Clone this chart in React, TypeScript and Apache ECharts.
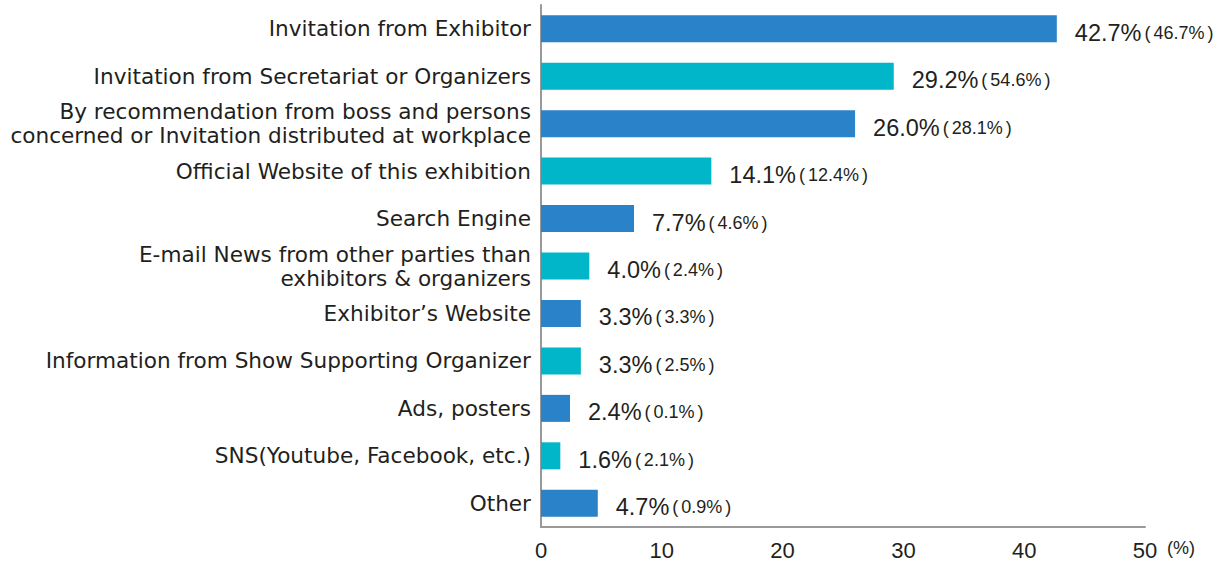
import React, { useEffect, useRef } from "react";
import * as echarts from "echarts";

const categories = [
  "Invitation from Exhibitor",
  "Invitation from Secretariat or Organizers",
  "By recommendation from boss and persons\nconcerned or Invitation distributed at workplace",
  "Official Website of this exhibition",
  "Search Engine",
  "E-mail News from other parties than\nexhibitors & organizers",
  "Exhibitor’s Website",
  "Information from Show Supporting Organizer",
  "Ads, posters",
  "SNS(Youtube, Facebook, etc.)",
  "Other",
];
const currentValues = [42.7, 29.2, 26.0, 14.1, 7.7, 4.0, 3.3, 3.3, 2.4, 1.6, 4.7];
const previousValues = [46.7, 54.6, 28.1, 12.4, 4.6, 2.4, 3.3, 2.5, 0.1, 2.1, 0.9];
const barColors = ["#2a82c8", "#00b6c8"];

export default function App() {
  const ref = useRef<HTMLDivElement>(null);
  useEffect(() => {
    if (!ref.current) return;
    const chart = echarts.init(ref.current, undefined, { renderer: "svg" });
    const catFont = "'DejaVu Sans', sans-serif";
    const numFont = "'Liberation Sans', Arial, sans-serif";
    const textColor = "#231f20";
    chart.setOption({
      animation: false,
      grid: { left: 541, top: 5, right: 83, bottom: 36, containLabel: false },
      xAxis: {
        type: "value",
        min: 0,
        max: 50,
        interval: 10,
        name: "(%)",
        nameLocation: "end",
        nameGap: 22,
        nameTextStyle: {
          fontSize: 18,
          color: textColor,
          fontFamily: numFont,
          verticalAlign: "top",
          padding: [12, 0, 0, 0],
        },
        axisLine: { show: true, lineStyle: { color: "#999", width: 2 } },
        axisTick: { show: false },
        splitLine: { show: false },
        axisLabel: { fontSize: 22, color: textColor, fontFamily: numFont, margin: 12 },
      },
      yAxis: {
        type: "category",
        inverse: true,
        data: categories,
        axisLine: { show: true, lineStyle: { color: "#999", width: 2 } },
        axisTick: { show: false },
        axisLabel: {
          fontSize: 21.6,
          color: textColor,
          fontFamily: catFont,
          margin: 10,
          lineHeight: 24,
          align: "right",
        },
      },
      series: [
        {
          type: "bar",
          barWidth: 27,
          data: currentValues.map((v, i) => ({
            value: v,
            itemStyle: { color: barColors[i % 2] },
          })),
          label: {
            show: true,
            position: "right",
            distance: 18,
            offset: [0, 4],
            formatter: (p: any) =>
              `{a|${currentValues[p.dataIndex].toFixed(1)}%}{p|(}{b|${previousValues[p.dataIndex].toFixed(1)}%}{p|)}`,
            rich: {
              a: { fontSize: 23.5, color: textColor, fontFamily: numFont, lineHeight: 26 },
              b: { fontSize: 18, color: textColor, fontFamily: numFont, lineHeight: 26 },
              p: { fontSize: 18, color: textColor, fontFamily: numFont, lineHeight: 26, padding: [0, 3, 0, 3] },
            },
          },
        },
      ],
    });
    return () => chart.dispose();
  }, []);
  return (
    <div
      ref={ref}
      style={{ position: "absolute", left: 0, top: 0, width: 1228, height: 563 }}
    />
  );
}
